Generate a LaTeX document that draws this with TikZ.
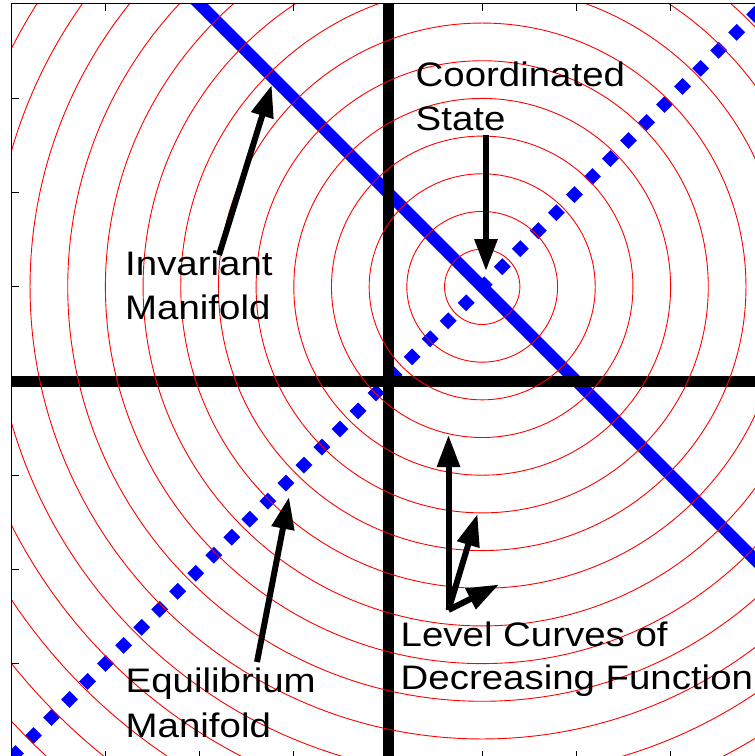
\documentclass[tikz,border=0pt]{standalone}
\usepackage{fontspec}
\setmainfont{Liberation Sans}
\usetikzlibrary{arrows.meta}
\begin{document}
\begin{tikzpicture}[x=1pt,y=-1pt,
  lbl/.style={inner sep=0pt, anchor=base west, font=\fontsize{34}{44}\selectfont, xscale=1.13, transform shape},
  pointer/.style={line width=6pt, -{Triangle[length=32pt,width=22pt]}},
  manifold/.style={blue, line width=12pt},
  eqline/.style={blue, line width=12pt, dash pattern=on 12pt off 13.5pt},
  axisline/.style={black, line width=11pt},
  level/.style={red, line width=0.9pt},
  frameline/.style={black, line width=1.2pt}]
\useasboundingbox (0,0) rectangle (755,756);
\begin{scope}
  \clip (11.7,3.7) rectangle (764.8,757.8);
  % invariant manifold x+y=2
  \draw[manifold] (152.5,-42.9) -- (811.9,616.5);
  % equilibrium manifold y=x
  \draw[eqline] (11.2,757.8) -- (764.8,4.2);
  % axes
  \draw[axisline] (388,0) -- (388,760);
  \draw[axisline] (0,381) -- (770,381);
  % level curves
  \foreach \k in {1,...,19}
    \draw[level] (482.2,286.8) circle[radius=37.68*\k pt];
\end{scope}
% frame and ticks
\draw[frameline] (11.7,3.7) rectangle (764.8,757.8);
\foreach \t in {-3,...,3}{
  \draw[frameline] ({388+94.2*\t},3.7) -- ++(0,7);
  \draw[frameline] ({388+94.2*\t},757.8) -- ++(0,-7);
  \draw[frameline] (11.7,{381+94.2*\t}) -- ++(7,0);
}
% arrows
\coordinate (csTail) at (486,135);
\coordinate (csTip) at (486,271);
\coordinate (imTail) at (219,255);
\coordinate (imTip) at (271.7,85);
\coordinate (emTail) at (257,662);
\coordinate (emTip) at (289,497);
\coordinate (lcTail) at (448.5,610);
\coordinate (lcTipA) at (448.5,435);
\coordinate (lcTipB) at (477.5,514);
\coordinate (lcTipC) at (499,584.5);
\draw[pointer] (csTail) -- (csTip);
\draw[pointer] (imTail) -- (imTip);
\draw[pointer] (emTail) -- (emTip);
\draw[pointer] (lcTail) -- (lcTipA);
\draw[pointer] (lcTail) -- (lcTipB);
\draw[pointer] (lcTail) -- (lcTipC);
% labels
\node[lbl] (cs1) at (415.5,86.7) {Coordinated};
\node[lbl] (cs2) at (415.5,130.7) {State};
\node[lbl] (im1) at (125,275) {Invariant};
\node[lbl] (im2) at (125,319) {Manifold};
\node[lbl] (em1) at (125.5,692) {Equilibrium};
\node[lbl] (em2) at (125.5,737) {Manifold};
\node[lbl] (lc1) at (400.5,646) {Level Curves of};
\node[lbl] (lc2) at (400.5,689) {Decreasing Function};
\end{tikzpicture}
\end{document}
